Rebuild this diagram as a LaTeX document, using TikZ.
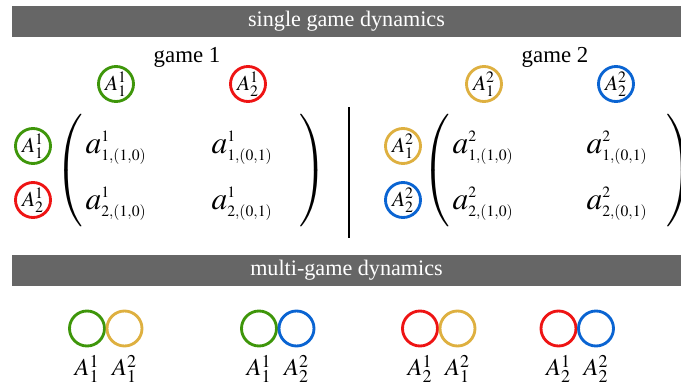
\documentclass[tikz,border=0pt]{standalone}
\usepackage{amsmath}
\usepackage{mathptmx}
\usepackage[no-math]{fontspec}
\setmainfont{Liberation Serif}
\usetikzlibrary{shapes}
\usetikzlibrary{positioning}
\DeclareMathSizes{22}{22}{11}{8}
\definecolor{pgreen}{RGB}{62,150,10}
\definecolor{pred}{RGB}{238,20,20}
\definecolor{pyellow}{RGB}{222,176,64}
\definecolor{pblue}{RGB}{10,100,210}
\definecolor{bargray}{RGB}{102,102,102}
\tikzstyle{player}=[circle,draw,line width=2pt,minimum size=24.5pt,inner sep=0pt,font=\fontsize{15}{17}\selectfont]
\tikzstyle{banner}=[fill=bargray,text=white,minimum width=468.3pt,minimum height=21.7pt,inner sep=0pt,font=\fontsize{15.5}{18}\selectfont]
\tikzstyle{title}=[font=\fontsize{16}{18}\selectfont]
\tikzstyle{entry}=[inner sep=0pt,font=\fontsize{22}{26}\selectfont]
\tikzstyle{paren}=[inner sep=0pt,font=\fontsize{22}{26}\selectfont]
\tikzstyle{pair}=[font=\fontsize{17}{19}\selectfont]

\begin{document}
\begin{tikzpicture}[x=0.7pt,y=-0.7pt]
\useasboundingbox (0,0) rectangle (681,386);

  \node[banner] (single) at (346.5,21.5) {single game dynamics};
  \node[banner] (multi) at (346.5,270.5) {multi-game dynamics};

  \node[title] (game1) at (187,57) {game 1};
  \node[title] (game2) at (555,57) {game 2};

  \foreach \x/\y/\name/\col/\label in {116/84/c11/pgreen/A^1_1, 248/84/c12/pred/A^1_2, 33/146/r11/pgreen/A^1_1, 33/200/r12/pred/A^1_2, 484/84/c21/pyellow/A^2_1, 616/84/c22/pblue/A^2_2, 403/146/r21/pyellow/A^2_1, 403/200/r22/pblue/A^2_2}
         \node[player,draw=\col] (\name) at (\x,\y) {$\label$};

  \foreach \x/\y/\name/\label in {116/148/e111/{a^1_{1,(1,0)}}, 242/148/e112/{a^1_{1,(0,1)}}, 116/204/e121/{a^1_{2,(1,0)}}, 242/204/e122/{a^1_{2,(0,1)}}, 483/148/e211/{a^2_{1,(1,0)}}, 617/148/e212/{a^2_{1,(0,1)}}, 483/204/e221/{a^2_{2,(1,0)}}, 617/204/e222/{a^2_{2,(0,1)}}}
         \node[entry] (\name) at (\x,\y) {$\label$};

  \foreach \x/\name in {70/lp1, 437/lp2}
         \node[paren] (\name) at (\x,171) {$\left(\vrule height 35pt depth 35pt width 0pt\right.$};
  \foreach \x/\name in {312/rp1, 679/rp2}
         \node[paren] (\name) at (\x,171) {$\left.\vrule height 35pt depth 35pt width 0pt\right)$};

  \coordinate (vtop) at (349,107);
  \coordinate (vbot) at (349,238);
  \draw[line width=1pt] (vtop) -- (vbot);

  \foreach \x/\name/\col/\label in {87/p1/pgreen/A^1_1, 124.5/p2/pyellow/A^2_1, 259/p3/pgreen/A^1_1, 296.5/p4/pblue/A^2_2, 420/p5/pred/A^1_2, 457.5/p6/pyellow/A^2_1, 558.5/p7/pred/A^1_2, 596/p8/pblue/A^2_2}
  {
         \node[player,draw=\col] (\name) at (\x,328.5) {};
         \node[pair] (\name lab) at (\x,369) {$\label$};
  }

\end{tikzpicture}
\end{document}
